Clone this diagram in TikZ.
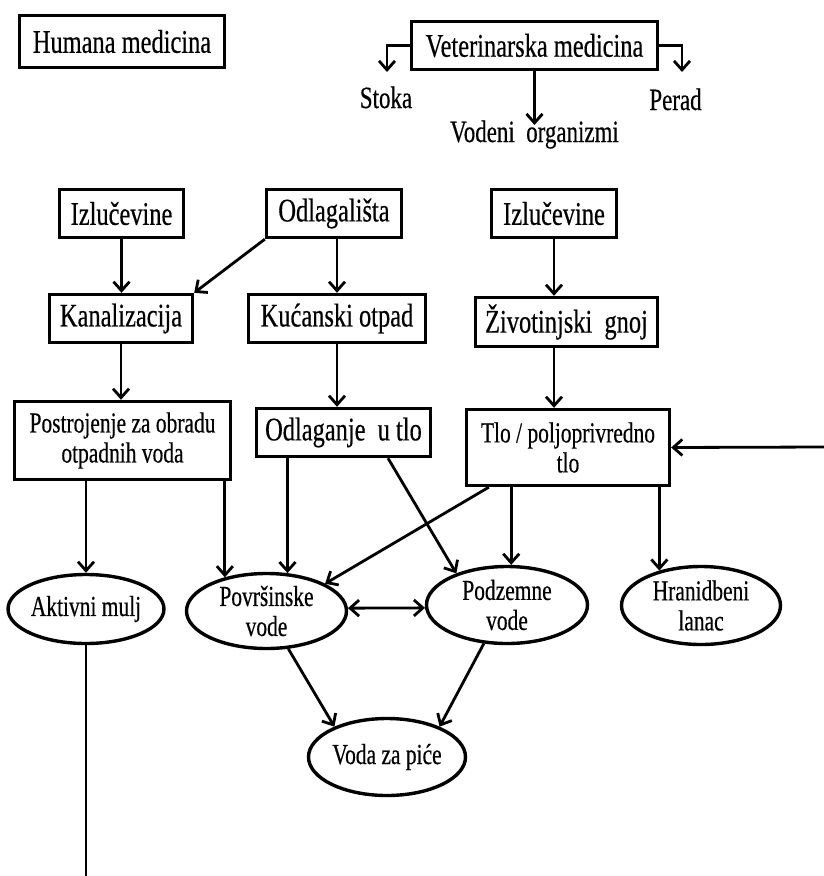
\documentclass[tikz,border=0pt]{standalone}
\usepackage{fontspec}
\newfontfamily\mainf{Liberation Serif}[FakeStretch=0.74,FakeBold=0.4]
\usetikzlibrary{arrows.meta,shapes.geometric,calc}
\newcommand\fBig{\mainf\fontsize{33}{36}\selectfont}
\newcommand\fSmall{\mainf\fontsize{29}{30}\selectfont}
\newcommand\fLbl{\mainf\fontsize{31}{34}\selectfont}
\begin{document}
\begin{tikzpicture}[x=1pt,y=-1pt,
  box/.style={draw, line width=3.4pt, rectangle, inner sep=0pt, align=center, font=\fBig},
  sbox/.style={box, font=\fSmall},
  ell/.style={draw, ellipse, line width=3.4pt, inner sep=0pt, align=center, font=\fSmall},
  lbl/.style={inner sep=0pt, anchor=base, font=\fLbl},
  arr/.style={line width=2.8pt, -{Straight Barb[length=9pt,width=16pt]}},
  dbl/.style={line width=2.8pt, {Straight Barb[length=9pt,width=16pt]}-{Straight Barb[length=9pt,width=16pt]}},
  plainline/.style={line width=2.8pt}]
\fill[white] (0,0) rectangle (824,876);
\useasboundingbox (0,0) rectangle (824,876);

% top
\node[box, minimum width=205pt, minimum height=52pt] (hum) at (122,41.5) {Humana medicina};
\node[box, minimum width=246pt, minimum height=48pt] (vet) at (534.5,45.5) {Veterinarska medicina};
\node[lbl] (stoka) at (386,108) {Stoka};
\node[lbl] (perad) at (675.5,110) {Perad};
\node[lbl] (vodeni) at (534.5,142) {Vodeni~ organizmi};

% row 1
\node[box, minimum width=124pt, minimum height=48pt] (izl1) at (121.5,213.5) {Izlučevine};
\node[box, minimum width=135pt, minimum height=48pt] (odl) at (334,213.5) {Odlagališta};
\node[box, minimum width=125pt, minimum height=48pt] (izl2) at (554,213.5) {Izlučevine};

% row 2
\node[box, minimum width=143pt, minimum height=48pt] (kan) at (121,318.5) {Kanalizacija};
\node[box, minimum width=177pt, minimum height=48pt] (kuc) at (337,318.5) {Kućanski otpad};
\node[box, minimum width=182pt, minimum height=49pt] (ziv) at (566.5,322) {Životinjski~ gnoj};

% row 3
\node[sbox, minimum width=216pt, minimum height=78pt] (pos) at (122.5,440.5) {Postrojenje za obradu\\otpadnih voda};
\node[box, minimum width=174pt, minimum height=48pt] (odlt) at (343.5,432.5) {Odlaganje~ u tlo};
\node[sbox, minimum width=203pt, minimum height=76pt] (tlo) at (568,447.5) {Tlo / poljoprivredno\\tlo};

% ellipses
\node[ell, minimum width=139pt, minimum height=69pt] (akt) at (86,609) {Aktivni mulj};
\node[ell, minimum width=160pt, minimum height=75pt] (pov) at (266.5,611) {Površinske\\vode};
\node[ell, minimum width=161pt, minimum height=77pt] (pod) at (507,605) {Podzemne\\vode};
\node[ell, minimum width=159pt, minimum height=78pt] (hra) at (701,605.5) {Hranidbeni\\lanac};
\node[ell, minimum width=157pt, minimum height=77pt] (voda) at (387,757) {Voda za piće};

\coordinate (bot) at (86,876);
\coordinate (rin) at (824,447);

% connectors top
\draw[arr] (vet.west) -| ($(stoka.base)+(1,-36)$);
\draw[arr] (vet.east) -| ($(perad.base)+(6.5,-38)$);
\draw[arr] (vet.south) -- ($(vodeni.base)+(0,-17)$);

\draw[arr] (izl1.south) -- (izl1.south |- kan.north);
\draw[arr] (odl.south west) -- (kan.north east);
\draw[arr] (odl.south -| kuc.north) -- (kuc.north);
\draw[arr] (izl2.south) -- (izl2.south |- ziv.north);

\draw[arr] (kan.south) -- (kan.south |- pos.north);
\draw[arr] (kuc.south) -- (kuc.south |- odlt.north);
\draw[arr] (ziv.south -| izl2.south) -- (izl2.south |- tlo.north);

\draw[arr] (pos.south -| akt.north) -- (akt.north);
\draw[arr] (pos.south -| pov.141) -- (pov.141);
\draw[arr] (odlt.south -| pov.61) -- (pov.61);
\draw[arr] ($(odlt.south)+(44.5,0)$) -- (pod.148);
\draw[arr] ($(tlo.south west)+(24,0)$) -- (pov.25);
\draw[arr] (tlo.south -| pod.84) -- (pod.84);
\draw[arr] (tlo.south -| hra.140) -- (hra.140);
\draw[dbl] (pov.2) -- (pod.182);
\draw[arr] (pov.-60) -- (voda.150);
\draw[arr] (pod.-121) -- (voda.30);
\draw[plainline] (akt.south) -- (bot);
\draw[arr] (rin) -- (tlo.east);
\end{tikzpicture}
\end{document}
